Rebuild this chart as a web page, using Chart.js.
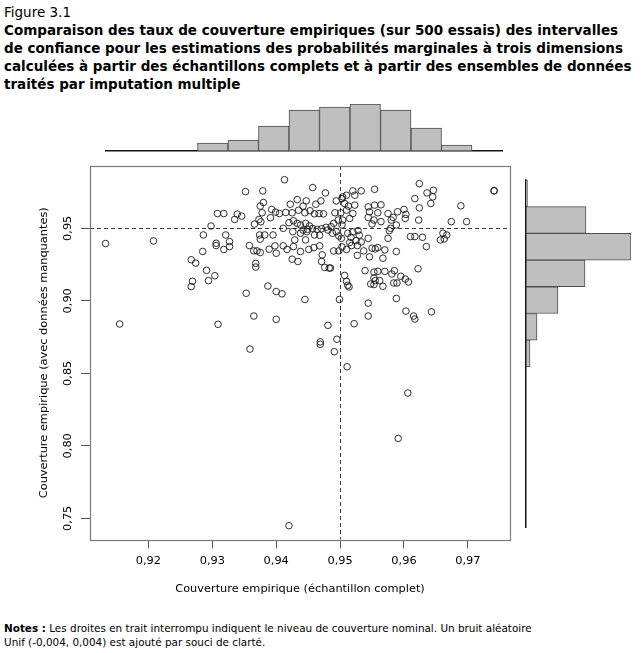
<!DOCTYPE html>
<html>
<head>
<meta charset="utf-8">
<script src="https://cdn.jsdelivr.net/npm/chart.js@4.4.1/dist/chart.umd.min.js"></script>
<style>
  html, body { margin: 0; padding: 0; background: #fff; }
  body { width: 644px; height: 653px; position: relative; overflow: hidden; font-family: 'DejaVu Sans', Verdana, sans-serif; color: #000; }
  canvas { position: absolute; }
  #title { position: absolute; left: 4px; top: 3px; line-height: 18px; white-space: nowrap; }
  #title b { font-weight: bold; }
  #notes { position: absolute; left: 4px; top: 621px; line-height: 14px; white-space: nowrap; }
</style>
</head>
<body>
<div id="title"><span id="fig">Figure 3.1</span><br><b>Comparaison des taux de couverture empiriques (sur 500 essais) des intervalles</b><br><b>de confiance pour les estimations des probabilités marginales à trois dimensions</b><br><b id="t3">calculées à partir des échantillons complets et à partir des ensembles de données</b><br><b>traités par imputation multiple</b></div>
<canvas id="top" width="644" height="60" style="left:0;top:95px"></canvas>
<canvas id="main" width="515" height="460" style="left:0;top:150px"></canvas>
<canvas id="right" width="129" height="380" style="left:515px;top:160px"></canvas>
<div id="notes"><b>Notes :</b> Les droites en trait interrompu indiquent le niveau de couverture nominal. Un bruit aléatoire<br>Unif (-0,004, 0,004) est ajouté par souci de clarté.</div>
<script>
// ---------------- data ----------------
const xTickValues = [0.92, 0.93, 0.94, 0.95, 0.96, 0.97];
const yTickValues = [0.75, 0.80, 0.85, 0.90, 0.95];
const nominalLevel = 0.95;

// empirical coverage, complete sample (x)
const coverageComplete = [
0.9413,0.9352,0.9379,0.9457,0.9477,0.9494,0.9433,0.9422,0.9447,0.9462,0.9470,0.9380,0.9375,0.9393,0.9399,0.9405,0.9415,0.9425,0.9435,0.9442,
0.9445,0.9453,0.9460,0.9467,0.9474,0.9492,0.9378,0.9391,0.9373,0.9376,0.9308,0.9318,0.9339,0.9346,0.9335,0.9366,0.9411,0.9420,0.9427,0.9433,
0.9438,0.9446,0.9452,0.9442,0.9449,0.9457,0.9464,0.9471,0.9478,0.9486,0.9490,0.9497,0.9298,0.9426,0.9438,0.9448,0.9460,0.9468,0.9481,0.9488,
0.9494,0.9286,0.9321,0.9327,0.9306,0.9374,0.9382,0.9375,0.9395,0.9429,0.9446,
0.9624,0.9554,0.9533,0.9520,0.9523,0.9510,0.9503,0.9507,0.9513,0.9523,0.9510,0.9520,0.9515,0.9504,0.9501,0.9636,0.9646,0.9645,0.9642,0.9617,
0.9624,0.9689,0.9741,0.9741,0.9544,0.9554,0.9564,0.9546,0.9559,0.9544,0.9553,0.9550,0.9564,0.9575,0.9583,0.9590,0.9600,0.9603,0.9602,0.9580,
0.9579,0.9577,0.9588,0.9623,0.9674,0.9698,0.9575,0.9610,0.9617,0.9629,0.9661,0.9667,0.9663,0.9657,0.9512,0.9520,0.9528,0.9530,0.9517,0.9525,
0.9515,0.9533,0.9544,0.9502,
0.9285,0.9267,0.9274,0.9291,0.9304,0.9294,0.9269,0.9267,0.9318,0.9327,0.9306,0.9358,0.9365,0.9370,0.9375,0.9368,0.9368,0.9389,0.9400,0.9398,
0.9411,0.9417,0.9427,0.9438,0.9451,0.9459,0.9468,0.9425,0.9434,0.9472,0.9471,0.9476,0.9483,0.9485,0.9490,0.9498,0.9387,0.9400,0.9409,0.9353,
0.9445,0.9499,0.9365,0.9400,0.9309,0.9481,
0.9503,0.9510,0.9518,0.9527,0.9537,0.9527,0.9546,0.9550,0.9555,0.9559,0.9570,0.9567,0.9588,0.9635,0.9622,0.9539,0.9553,0.9559,0.9570,0.9581,
0.9585,0.9553,0.9555,0.9548,0.9553,0.9567,0.9562,0.9595,0.9602,0.9607,0.9584,0.9589,0.9507,0.9510,0.9512,0.9514,0.9588,0.9544,0.9603,0.9615,
0.9617,0.9643,0.9544,0.9522,
0.9469,0.9469,0.9495,0.9491,0.9359,0.9511,0.9606,0.9591,0.9420,0.9133,0.9208,0.9155,0.9503,0.9498,0.9504
];
// empirical coverage, with missing data (y)
const coverageMissing = [
0.9835,0.9753,0.9758,0.9781,0.9744,0.9689,0.9698,0.9666,0.9689,0.9666,0.9689,0.9678,0.9653,0.9630,0.9612,0.9602,0.9609,0.9607,0.9625,0.9653,
0.9607,0.9621,0.9600,0.9602,0.9600,0.9607,0.9607,0.9573,0.9561,0.9545,0.9602,0.9602,0.9598,0.9584,0.9561,0.9529,0.9500,0.9539,0.9552,0.9534,
0.9523,0.9534,0.9516,0.9488,0.9493,0.9499,0.9493,0.9497,0.9507,0.9511,0.9534,0.9557,0.9516,0.9477,0.9466,0.9477,0.9454,0.9452,0.9488,0.9466,
0.9477,0.9454,0.9454,0.9408,0.9397,0.9454,0.9454,0.9425,0.9454,0.9420,0.9420,
0.9808,0.9769,0.9758,0.9758,0.9728,0.9728,0.9705,0.9671,0.9653,0.9660,0.9625,0.9602,0.9568,0.9557,0.9607,0.9744,0.9762,0.9717,0.9671,0.9705,
0.9641,0.9655,0.9758,0.9760,0.9648,0.9660,0.9662,0.9614,0.9607,0.9575,0.9557,0.9530,0.9546,0.9602,0.9575,0.9614,0.9630,0.9596,0.9568,0.9557,
0.9500,0.9484,0.9523,0.9557,0.9546,0.9546,0.9431,0.9443,0.9443,0.9438,0.9466,0.9454,0.9427,0.9420,0.9466,0.9475,0.9484,0.9452,0.9438,0.9415,
0.9402,0.9406,0.9431,0.9431,
0.9340,0.9283,0.9260,0.9210,0.9173,0.9139,0.9135,0.9098,0.9354,0.9374,0.9381,0.9381,0.9344,0.9344,0.9333,0.9258,0.9233,0.9356,0.9328,0.9379,
0.9379,0.9354,0.9374,0.9340,0.9354,0.9367,0.9379,0.9287,0.9271,0.9317,0.9271,0.9230,0.9226,0.9226,0.9344,0.9344,0.9102,0.9064,0.9048,0.9052,
0.9009,0.9009,0.8895,0.8872,0.8838,0.8831,
0.9372,0.9354,0.9381,0.9381,0.9344,0.9313,0.9303,0.9363,0.9358,0.9367,0.9351,0.9294,0.9340,0.9374,0.9221,0.9208,0.9198,0.9203,0.9203,0.9185,
0.9208,0.9157,0.9139,0.9116,0.9112,0.9100,0.9139,0.9169,0.9150,0.9130,0.9123,0.9123,0.9175,0.9134,0.9107,0.9096,0.9016,0.8984,0.8929,0.8895,
0.8874,0.8924,0.8895,0.8842,
0.8717,0.8700,0.8735,0.8649,0.8667,0.8545,0.8364,0.8051,0.7449,0.9395,0.9413,0.8840,0.9523,0.9447,0.9717
];

// marginal histograms (bar lengths)
const topBins = ['b1','b2','b3','b4','b5','b6','b7','b8','b9','b10','b11','b12','b13'];
const topCounts = [0, 0, 0, 8, 11, 25, 41, 44, 47, 41, 23, 6, 0];
const rightBins = ['r1','r2','r3','r4','r5','r6','r7','r8','r9','r10','r11','r12','r13'];
const rightCounts = [1.5, 60, 105, 59, 32, 11, 4, 0, 0, 0, 0, 0, 0];

// ---------------- fonts fitted to reference widths ----------------
const FAM = "'DejaVu Sans', Verdana, sans-serif";
const mctx = document.createElement('canvas').getContext('2d');
function w100(text, weight) { mctx.font = weight + ' 100px ' + FAM; return mctx.measureText(text).width; }
const titleSize = 100 * 628 / w100('calculées à partir des échantillons complets et à partir des ensembles de données', 'bold');
document.getElementById('title').style.fontSize = titleSize.toFixed(2) + 'px';
const notesSize = 100 * 528 / (w100('Notes :', 'bold') + w100(' Les droites en trait interrompu indiquent le niveau de couverture nominal. Un bruit aléatoire', 'normal'));
document.getElementById('notes').style.fontSize = notesSize.toFixed(2) + 'px';
const axisSize = 100 * 250 / w100('Couverture empirique (échantillon complet)', 'normal');

const fmt = v => Number(v).toFixed(2).replace('.', ',');
const points = coverageComplete.map((x, i) => ({ x: x, y: coverageMissing[i] }));

const boxPlugin = {
  id: 'boxAndRefs',
  beforeDatasetsDraw(chart) {
    const { ctx, chartArea: a, scales: { x, y } } = chart;
    ctx.save();
    ctx.strokeStyle = '#3a3a3a';
    ctx.lineWidth = 1;
    ctx.setLineDash([4, 3]);
    const py = Math.round(y.getPixelForValue(nominalLevel)) + 0.5;
    const px = Math.round(x.getPixelForValue(nominalLevel)) + 0.5;
    ctx.beginPath(); ctx.moveTo(a.left, py); ctx.lineTo(a.right, py); ctx.stroke();
    ctx.beginPath(); ctx.moveTo(px, a.top); ctx.lineTo(px, a.bottom); ctx.stroke();
    ctx.restore();
  },
  afterDraw(chart) {
    const { ctx, chartArea: a } = chart;
    ctx.save();
    ctx.strokeStyle = '#7a7a7a';
    ctx.lineWidth = 1.2;
    ctx.strokeRect(Math.round(a.left) + 0.5, Math.round(a.top) + 0.5, Math.round(a.right - a.left), Math.round(a.bottom - a.top));
    ctx.restore();
  }
};

new Chart(document.getElementById('main'), {
  type: 'scatter',
  data: { datasets: [{
    data: points,
    pointStyle: 'circle',
    pointRadius: 3.3,
    pointBorderWidth: 1,
    pointBorderColor: 'rgba(25,25,25,0.9)',
    pointBackgroundColor: 'rgba(0,0,0,0)'
  }] },
  options: {
    responsive: false,
    animation: false,
    devicePixelRatio: 1,
    layout: { padding: { left: 0, right: 4.3, top: 16, bottom: 0 } },
    plugins: { legend: { display: false }, tooltip: { enabled: false } },
    scales: {
      x: {
        type: 'linear', min: 0.91086, max: 0.97659,
        afterBuildTicks: s => { s.ticks = xTickValues.map(v => ({ value: v })); },
        afterFit: s => { s.height = 70.5; },
        ticks: { callback: fmt, autoSkip: false, maxRotation: 0, padding: 6, color: '#000', font: { family: FAM, size: axisSize } },
        grid: { display: true, drawOnChartArea: false, drawTicks: true, tickLength: 9, color: '#555', lineWidth: 1 },
        border: { display: false },
        title: { display: true, text: 'Couverture empirique (échantillon complet)', color: '#000', font: { family: FAM, size: axisSize }, padding: { top: 0, bottom: 14 } }
      },
      y: {
        type: 'linear', min: 0.73538, max: 0.99297,
        afterBuildTicks: s => { s.ticks = yTickValues.map(v => ({ value: v })); },
        afterFit: s => { s.width = 90; },
        ticks: { callback: fmt, autoSkip: false, minRotation: 90, maxRotation: 90, crossAlign: 'center', padding: 0, color: '#000', font: { family: FAM, size: axisSize } },
        grid: { display: true, drawOnChartArea: false, drawTicks: true, tickLength: 9, color: '#555', lineWidth: 1 },
        border: { display: false },
        title: { display: true, text: 'Couverture empirique (avec données manquantes)', color: '#000', font: { family: FAM, size: axisSize }, padding: { top: 37, bottom: 0 } }
      }
    }
  },
  plugins: [boxPlugin]
});

const histBar = {
  backgroundColor: '#bfbfbf',
  borderColor: '#4d4d4d',
  borderWidth: 1,
  borderSkipped: false,
  barPercentage: 1,
  categoryPercentage: 1
};

new Chart(document.getElementById('top'), {
  type: 'bar',
  data: { labels: topBins, datasets: [Object.assign({ data: topCounts }, histBar)] },
  options: {
    responsive: false, animation: false, devicePixelRatio: 1,
    layout: { padding: { left: 106, right: 141.5, top: 9, bottom: 4 } },
    plugins: { legend: { display: false }, tooltip: { enabled: false } },
    scales: {
      x: { display: true, ticks: { display: false }, grid: { display: false, drawTicks: false }, border: { display: true, color: '#111', width: 1.5 }, afterFit: s => { s.height = 0; } },
      y: { display: false, min: 0, max: 47 }
    }
  }
});

new Chart(document.getElementById('right'), {
  type: 'bar',
  data: { labels: rightBins, datasets: [Object.assign({ data: rightCounts }, histBar)] },
  options: {
    indexAxis: 'y',
    responsive: false, animation: false, devicePixelRatio: 1,
    layout: { padding: { left: 11, right: 13, top: 20, bottom: 13 } },
    plugins: { legend: { display: false }, tooltip: { enabled: false } },
    scales: {
      y: { display: true, position: 'left', ticks: { display: false }, grid: { display: false, drawTicks: false }, border: { display: true, color: '#111', width: 1.5 }, afterFit: s => { s.width = 0; } },
      x: { display: false, min: 0, max: 105 }
    }
  }
});
</script>
</body>
</html>
